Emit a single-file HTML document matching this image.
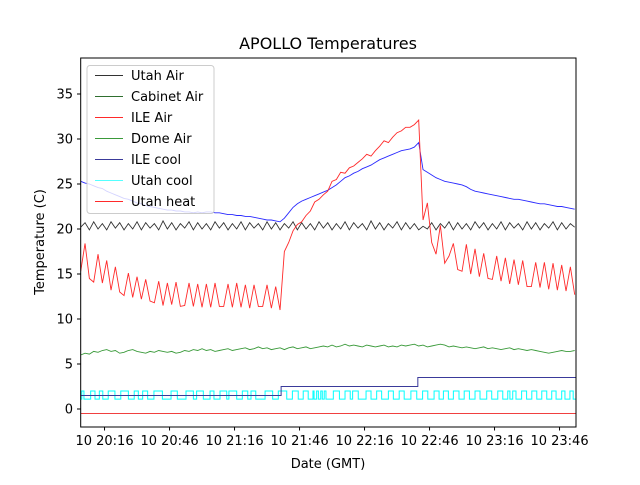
<!DOCTYPE html>
<html><head><meta charset="utf-8"><style>
body{margin:0;background:#fff;}
svg text{font-family:"DejaVu Sans","Liberation Sans",sans-serif;}
</style></head><body>
<svg id="c" width="640" height="480" xmlns="http://www.w3.org/2000/svg">
<rect width="640" height="480" fill="#fff"/>
<defs><clipPath id="cp"><rect x="80.7" y="58" width="495.3" height="369"/></clipPath></defs>
<text x="328" y="49" font-size="16" text-anchor="middle">APOLLO Temperatures</text>
<text x="0" y="0" font-size="13" text-anchor="middle" transform="translate(44,242) rotate(-90)">Temperature (C)</text>
<text x="328" y="468" font-size="13" text-anchor="middle">Date (GMT)</text>
<g id="plot" clip-path="url(#cp)"></g>
<g id="axes"></g>
<g id="legend"></g>
</svg>
<script>
const startMinutes = 0; // 20:05 GMT
const yTicks = [0,5,10,15,20,25,30,35];
const xTickMinutes = [11,41,71,101,131,161,191,221];
const xTickLabels = ["10 20:16","10 20:46","10 21:16","10 21:46","10 22:16","10 22:46","10 23:16","10 23:46"];
const sampleStep = 2;
const ileAir = [15.3,18.4,14.5,14.1,17.2,14,16.5,13.2,15.8,13,12.6,15.1,12.4,14.7,12.2,14.4,12,11.8,14.2,11.5,14,11.6,14.1,11.4,11.5,14,11.4,13.9,11.3,13.9,11.3,14,11.4,11.4,13.9,11.3,14,11.3,13.8,11.2,13.8,11.4,11.4,13.8,11.2,13.6,11,17.5,18.5,19.8,20.5,20.8,21.5,22,23,23.3,23.8,24.2,25.3,25.5,26.3,26.2,26.8,27,27.4,27.8,28.3,28.1,28.7,29.2,29.8,29.6,30.2,30.7,30.9,31.3,31.3,31.6,32.1,21,22.9,18.5,17.2,20.4,16.2,17,18.4,15.5,15.3,18.3,15,17.8,14.7,17.3,14.5,14.4,17,14.2,16.8,13.9,16.6,13.8,16.5,13.6,13.6,16.3,13.5,16.3,13.3,16.2,13.2,16,13.1,15.8,12.7];
const blueAir = [25.3,25.1,25.0,24.8,24.6,24.5,24.2,24.0,23.8,23.6,23.4,23.3,23.1,22.9,22.8,22.6,22.5,22.4,22.3,22.2,22.1,22.1,22.0,22.0,21.9,21.9,21.8,21.9,21.8,21.9,21.9,21.8,21.8,21.7,21.6,21.6,21.5,21.5,21.4,21.4,21.3,21.2,21.1,21.0,21.0,20.9,20.8,21.2,21.8,22.4,22.8,23.1,23.3,23.5,23.7,23.9,24.1,24.3,24.6,24.9,25.3,25.7,25.9,26.2,26.4,26.7,26.9,27.1,27.4,27.7,27.9,28.1,28.3,28.5,28.7,28.8,28.9,29.1,29.6,26.6,26.3,26.0,25.7,25.5,25.3,25.2,25.1,25.0,24.9,24.7,24.4,24.2,24.1,24.0,23.9,23.8,23.7,23.6,23.5,23.4,23.3,23.3,23.2,23.1,23.0,22.9,22.8,22.8,22.7,22.6,22.5,22.5,22.4,22.3,22.2];
const utahAir = [20.2,20.7,19.9,20.8,20.0,20.6,19.9,20.8,20.1,20.7,19.9,20.6,20.0,20.8,19.9,20.7,20.1,20.6,19.9,20.9,20.0,20.7,19.9,20.6,20.1,20.8,19.9,20.7,20.0,20.6,19.9,20.8,20.1,20.7,19.9,20.6,20.0,20.8,19.9,20.7,20.1,20.6,19.9,20.8,20.0,20.7,19.9,20.6,20.1,20.8,19.9,20.7,20.0,20.6,19.9,20.8,20.1,20.7,19.9,20.6,20.0,20.8,19.9,20.7,20.1,20.6,19.9,20.9,20.0,20.7,19.9,20.6,20.1,20.8,19.9,20.7,20.0,20.6,19.9,20.3,20.0,20.7,19.9,20.6,20.1,20.8,19.9,20.7,20.0,20.6,19.9,20.8,20.1,20.7,19.9,20.6,20.0,20.8,19.9,20.7,20.1,20.6,19.9,20.8,20.0,20.7,19.9,20.6,20.1,20.8,19.9,20.7,20.0,20.6,20.2];
const domeAir = [6.0,6.2,6.1,6.4,6.3,6.5,6.6,6.4,6.5,6.2,6.3,6.5,6.6,6.4,6.3,6.2,6.4,6.3,6.5,6.4,6.3,6.4,6.2,6.3,6.5,6.4,6.6,6.5,6.7,6.5,6.6,6.4,6.5,6.6,6.7,6.5,6.6,6.7,6.8,6.6,6.7,6.9,6.7,6.8,6.6,6.7,6.8,6.6,6.8,6.9,6.7,6.8,6.9,6.7,6.8,6.9,7.0,6.9,7.1,6.9,7.0,7.2,7.0,7.1,7.0,6.9,7.1,7.0,6.9,7.0,7.1,6.9,7.0,6.9,7.1,7.0,7.1,7.2,7.0,7.1,6.9,7.0,7.1,7.2,7.1,6.9,7.0,6.9,6.8,6.9,6.8,6.7,6.8,6.9,6.7,6.8,6.7,6.6,6.7,6.8,6.6,6.7,6.6,6.5,6.6,6.5,6.4,6.3,6.2,6.3,6.4,6.5,6.4,6.4,6.5];
const ileCoolSteps = [[0,1.5],[92.5,2.5],[155.6,3.5]];
const utahCoolHighs = [[0.5,1.5],[4.6,6.6],[8.6,10.2],[12.7,15.8],[18.5,22],[24.7,26.6],[28.6,30.9],[33.8,37.7],[41.7,44.6],[48.6,52],[53.5,56.6],[59.7,61.5],[64.3,67.4],[68.4,72],[74.6,77.1],[78.6,80.8],[85.1,88.6],[91.2,95.1],[97.7,100.4],[102.7,105],[107.2,107.7],[108.9,109.7],[110.8,111.5],[112.4,113.2],[116.6,119.4],[122,124.4],[125.5,128.1],[131.7,134],[136.6,138.9],[142,144.3],[147,149.3],[152.4,155.1],[157.8,160.2],[163.1,165.4],[167.4,169.7],[172,174.6],[177,179.4],[182,184.3],[187.4,189.7],[192.5,194.8],[197.1,198.1],[199.4,200.9],[203.5,205.8],[208.2,210.5],[212.8,215.1],[217.4,219.4],[222,223.5],[225.8,227.3]];
const utahCoolLevels = [1.1,2.0];
const utahHeatLevel = -0.5;
const endMinutes = 228.6;

const NS="http://www.w3.org/2000/svg";
const X0=80.7, PXM=65/30, Y0=409, PXU=9;
function xs(t){return X0+(t-startMinutes)*PXM;}
function ys(v){return Y0-v*PXU;}
function mk(tag,attrs,parent){const e=document.createElementNS(NS,tag);for(const k in attrs)e.setAttribute(k,attrs[k]);parent.appendChild(e);return e;}
const plot=document.getElementById('plot'), axes=document.getElementById('axes'), leg=document.getElementById('legend');

function series(vals,color,name){
  const d=vals.map((v,i)=>(i?'L':'M')+xs(i*sampleStep).toFixed(2)+' '+ys(v).toFixed(2)).join(' ');
  const p=mk('path',{d:d,fill:'none',stroke:color,'stroke-width':0.9},plot);
  
  
}
// step: cyan
(function(){
  let d='M'+xs(0)+' '+ys(utahCoolLevels[0]);
  utahCoolHighs.forEach(h=>{
    d+=' L'+xs(h[0]).toFixed(2)+' '+ys(utahCoolLevels[0])+' L'+xs(h[0]).toFixed(2)+' '+ys(utahCoolLevels[1])+' L'+xs(h[1]).toFixed(2)+' '+ys(utahCoolLevels[1])+' L'+xs(h[1]).toFixed(2)+' '+ys(utahCoolLevels[0]);
  });
  d+=' L'+xs(endMinutes)+' '+ys(utahCoolLevels[0]);
  const p=mk('path',{d:d,fill:'none',stroke:'#00ffff','stroke-width':1},plot);
  
  
})();
(function(){
  let d='';
  ileCoolSteps.forEach((s,i)=>{
    const x=xs(s[0]).toFixed(2);
    d+=(i?' L'+x+' '+ys(ileCoolSteps[i-1][1])+' L':'M')+x+' '+ys(s[1]);
  });
  d+=' L'+xs(endMinutes)+' '+ys(ileCoolSteps[ileCoolSteps.length-1][1]);
  const p=mk('path',{d:d,fill:'none',stroke:'#3a3a9a','stroke-width':1},plot);
  
  
})();
(function(){
  const p=mk('line',{x1:xs(0),x2:xs(endMinutes),y1:ys(utahHeatLevel),y2:ys(utahHeatLevel),stroke:'#f04040','stroke-width':1},plot);
  
  
})();
series(domeAir,'#3a9a3a','dome-air-line');
series(utahAir,'#333333','utah-air-line');
series(blueAir,'#2a2aff','cabinet-air-line');
series(ileAir,'#ff2a2a','ile-air-line');

// axes frame
const fr=mk('rect',{x:80.7,y:58,width:495.3,height:369,fill:'none',stroke:'#000','stroke-width':1},axes);


yTicks.forEach(v=>{
  const y=ys(v);
  const t=mk('line',{x1:77,x2:80.7,y1:y,y2:y,stroke:'#000'},axes);
  
  
  const l=mk('text',{x:73,y:y+4.5,'font-size':13,'text-anchor':'end'},axes);
  l.textContent=v;
  
  
});
xTickMinutes.forEach((m,i)=>{
  const x=xs(m);
  const t=mk('line',{x1:x,x2:x,y1:427,y2:430.5,stroke:'#000'},axes);
  
  
  const l=mk('text',{x:x,y:445,'font-size':13,'text-anchor':'middle'},axes);
  l.textContent=xTickLabels[i];
  
  
});
// legend
const legNames=["Utah Air","Cabinet Air","ILE Air","Dome Air","ILE cool","Utah cool","Utah heat"];
const legColors=["#333333","#2f6f2f","#ff2a2a","#3a9a3a","#3a3a9a","#55ffff","#ff2a2a"];
const lb=mk('rect',{x:87,y:65.5,width:127,height:148,rx:3,fill:'#fff','fill-opacity':0.8,stroke:'#ccc'},leg);


legNames.forEach((n,i)=>{
  const y=75.5+i*21;
  const g=mk('g',{},leg);
  
  
  mk('line',{x1:95,x2:123,y1:y,y2:y,stroke:legColors[i],'stroke-width':1},g);
  const t=mk('text',{x:131,y:y+4.5,'font-size':13},g);
  t.textContent=n;
});
</script>
</body></html>
